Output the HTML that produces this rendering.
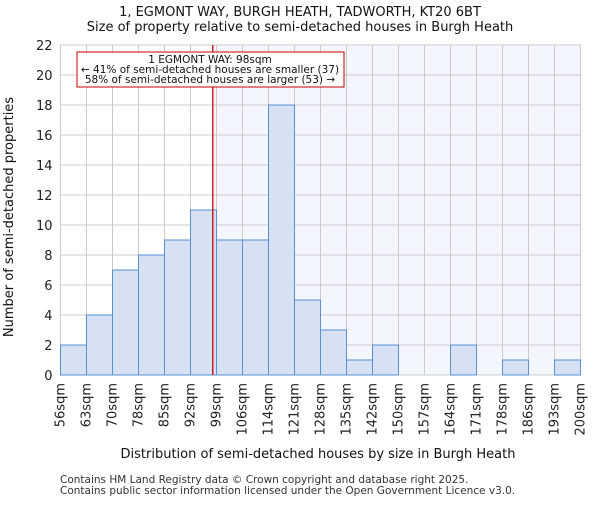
<!DOCTYPE html>
<html><head><meta charset="utf-8"><style>
body{margin:0;background:#fff;font-family:"Liberation Sans","DejaVu Sans",sans-serif;}
</style></head><body>
<svg width="600" height="500" xmlns="http://www.w3.org/2000/svg" font-family="DejaVu Sans, Liberation Sans, sans-serif">
<g id="g"></g>
</svg>
<script>
const edges=["56sqm","63sqm","70sqm","78sqm","85sqm","92sqm","99sqm","106sqm","114sqm","121sqm","128sqm","135sqm","142sqm","150sqm","157sqm","164sqm","171sqm","178sqm","186sqm","193sqm","200sqm"];
const counts=[2,4,7,8,9,11,9,9,18,5,3,1,2,0,0,2,0,1,0,1];
const yTicks=[0,2,4,6,8,10,12,14,16,18,20,22];
const markerBin=5+6/7;
const X0=60.5,X1=580.5,Y0=375,Y1=45,YMAX=22;
const bw=(X1-X0)/counts.length;
const xs=i=>X0+i*bw, ys=v=>Y0-(Y0-Y1)*v/YMAX;
const g=document.getElementById('g');
function el(t,a,txt){const e=document.createElementNS('http://www.w3.org/2000/svg',t);for(const k in a)e.setAttribute(k,a[k]);if(txt!==undefined)e.textContent=txt;g.appendChild(e);return e;}
const mx=xs(markerBin);
let e=el('rect',{x:mx,y:Y1,width:X1-mx,height:Y0-Y1,fill:'#f3f6fc'});


for(let i=0;i<edges.length;i++){e=el('line',{x1:xs(i),x2:xs(i),y1:Y1,y2:Y0,stroke:'#cccccc','stroke-width':1});

}
yTicks.forEach(t=>{e=el('line',{x1:X0,x2:X1,y1:ys(t),y2:ys(t),stroke:'#cccccc','stroke-width':1});


e=el('text',{x:X0-8,y:ys(t)+5,'text-anchor':'end','font-size':13,fill:'#222'},t);

});
counts.forEach((c,i)=>{if(c<=0)return;e=el('rect',{x:xs(i),y:ys(c),width:bw,height:Y0-ys(c),fill:'#d6e2f3',stroke:'#5b8fd6','stroke-width':1});

});
edges.forEach((l,i)=>{const x=xs(i)+4;e=el('text',{x:x,y:383,transform:`rotate(-90 ${x} 383)`,'text-anchor':'end','font-size':13,fill:'#222'},l);

});
e=el('line',{x1:mx,x2:mx,y1:Y1,y2:Y0,stroke:'#cc0000','stroke-width':1.3});


e=el('rect',{x:77,y:52,width:267,height:35,fill:'#fff',stroke:'#cc0000','stroke-width':1});


[["1 EGMONT WAY: 98sqm",62],["← 41% of semi-detached houses are smaller (37)",72],["58% of semi-detached houses are larger (53) →",82]].forEach(a=>{e=el('text',{x:210,y:a[1]+1,'text-anchor':'middle','font-size':10.5,fill:'#111'},a[0]);

});
e=el('text',{x:300,y:16,'text-anchor':'middle','font-size':13,fill:'#111'},'1, EGMONT WAY, BURGH HEATH, TADWORTH, KT20 6BT');


e=el('text',{x:300,y:31,'text-anchor':'middle','font-size':13,fill:'#111'},'Size of property relative to semi-detached houses in Burgh Heath');


e=el('text',{x:318,y:458,'text-anchor':'middle','font-size':13,fill:'#111'},'Distribution of semi-detached houses by size in Burgh Heath');


e=el('text',{x:13,y:217,transform:'rotate(-90 13 217)','text-anchor':'middle','font-size':13,fill:'#111'},'Number of semi-detached properties');


e=el('text',{x:60,y:483,'font-size':10.5,fill:'#333'},'Contains HM Land Registry data © Crown copyright and database right 2025.');


e=el('text',{x:60,y:494,'font-size':10.5,fill:'#333'},'Contains public sector information licensed under the Open Government Licence v3.0.');


</script>
</body></html>
